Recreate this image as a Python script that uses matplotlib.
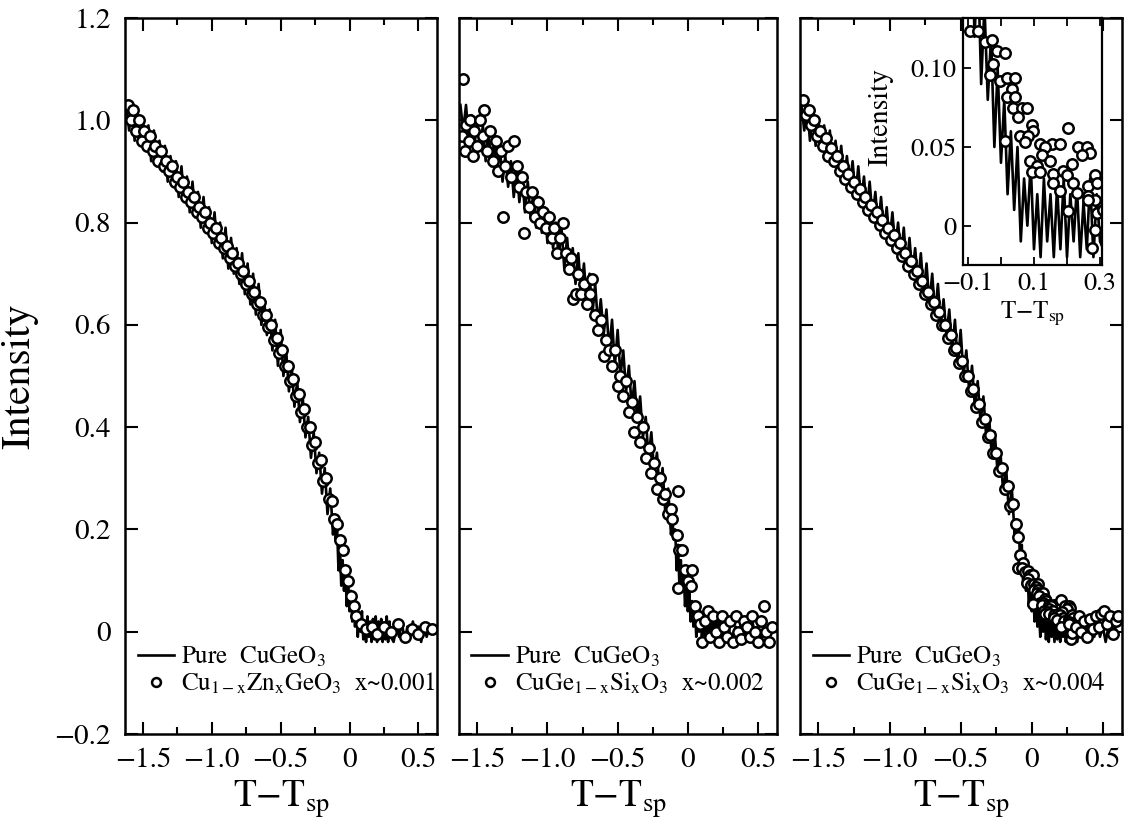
import numpy as np
import matplotlib.pyplot as plt
from matplotlib.ticker import FuncFormatter

plt.rcParams['font.family'] = 'STIXGeneral'
plt.rcParams['mathtext.fontset'] = 'stix'

# Pure CuGeO3 scan (same curve in all three panels)
pure_t = [-1.62, -1.60, -1.58, -1.56, -1.54, -1.52, -1.50, -1.48, -1.46, -1.44,
          -1.42, -1.40, -1.38, -1.36, -1.34, -1.32, -1.30, -1.28, -1.26, -1.24,
          -1.22, -1.20, -1.18, -1.16, -1.14, -1.12, -1.10, -1.08, -1.06, -1.04,
          -1.02, -1.00, -0.98, -0.96, -0.94, -0.92, -0.90, -0.88, -0.86, -0.84,
          -0.82, -0.80, -0.78, -0.76, -0.74, -0.72, -0.70, -0.68, -0.66, -0.64,
          -0.62, -0.60, -0.58, -0.56, -0.54, -0.52, -0.50, -0.48, -0.46, -0.44,
          -0.42, -0.40, -0.38, -0.36, -0.34, -0.32, -0.30, -0.28, -0.26, -0.24,
          -0.22, -0.20, -0.18, -0.16, -0.14,
          -0.12, -0.11, -0.10, -0.09, -0.08, -0.07, -0.06, -0.05, -0.04, -0.03,
          -0.02, -0.01, 0.00, 0.01, 0.02, 0.03, 0.04, 0.05, 0.06, 0.07,
          0.08, 0.09, 0.10, 0.11, 0.12, 0.13, 0.14, 0.15, 0.16, 0.17,
          0.18, 0.19, 0.20, 0.21, 0.22, 0.23, 0.24, 0.25, 0.26, 0.27,
          0.28, 0.29, 0.30,
          0.32, 0.34, 0.36, 0.38, 0.40, 0.42, 0.44, 0.46, 0.48, 0.50,
          0.52, 0.54, 0.56, 0.58, 0.60]
pure_i = [1.03, 0.98, 1.03, 0.96, 1.01, 0.95, 1.00, 0.94, 0.99, 0.92,
          0.98, 0.91, 0.96, 0.90, 0.95, 0.88, 0.93, 0.87, 0.92, 0.85,
          0.91, 0.84, 0.89, 0.82, 0.88, 0.81, 0.86, 0.79, 0.85, 0.78,
          0.83, 0.76, 0.82, 0.75, 0.80, 0.73, 0.79, 0.71, 0.77, 0.70,
          0.75, 0.68, 0.74, 0.66, 0.72, 0.64, 0.70, 0.62, 0.68, 0.60,
          0.65, 0.58, 0.63, 0.55, 0.61, 0.52, 0.59, 0.50, 0.55, 0.47,
          0.52, 0.44, 0.49, 0.41, 0.46, 0.38, 0.42, 0.34, 0.39, 0.31,
          0.35, 0.27, 0.32, 0.23, 0.28,
          0.19, 0.22, 0.18, 0.20, 0.12, 0.17, 0.09, 0.14, 0.08, 0.12,
          0.05, 0.10, 0.04, 0.08, 0.02, 0.06, 0.01, 0.05, -0.01, 0.03,
          0.00, 0.04, -0.015, 0.02, -0.02, 0.03, -0.01, 0.02, -0.02, 0.025,
          -0.015, 0.03, -0.02, 0.02, -0.01, 0.025, -0.02, 0.015, -0.015, 0.03,
          -0.02, 0.02, -0.01,
          -0.02, 0.01, -0.01, 0.02, -0.02, 0.01, -0.01, 0.02, -0.01, 0.01,
          -0.02, 0.01, -0.01, 0.01, 0.00]

# Cu1-xZnxGeO3, x~0.001
zn_t = [-1.61, -1.59, -1.57, -1.55, -1.53, -1.51, -1.49, -1.47, -1.45, -1.43,
        -1.41, -1.39, -1.37, -1.35, -1.33, -1.31, -1.29, -1.27, -1.25, -1.23,
        -1.21, -1.19, -1.17, -1.15, -1.13, -1.11, -1.09, -1.07, -1.05, -1.03,
        -1.01, -0.99, -0.97, -0.95, -0.93, -0.91, -0.89, -0.87, -0.85, -0.83,
        -0.81, -0.79, -0.77, -0.75, -0.73, -0.71, -0.69, -0.67, -0.65, -0.63,
        -0.61, -0.59, -0.57, -0.55, -0.53, -0.51, -0.49, -0.47, -0.45, -0.43,
        -0.41, -0.39, -0.37, -0.35, -0.33, -0.31, -0.29, -0.27, -0.25, -0.23,
        -0.21, -0.19, -0.17, -0.15, -0.13, -0.11, -0.09, -0.07, -0.05, -0.03,
        -0.01, 0.01, 0.03, 0.05, 0.08, 0.12, 0.16, 0.20, 0.25, 0.30,
        0.35, 0.40, 0.45, 0.50, 0.55, 0.60]
zn_i = [1.03, 1.00, 1.02, 0.98, 1.00, 0.96, 0.98, 0.95, 0.97, 0.94,
        0.95, 0.92, 0.94, 0.91, 0.92, 0.90, 0.91, 0.88, 0.89, 0.87,
        0.88, 0.85, 0.86, 0.84, 0.85, 0.82, 0.83, 0.81, 0.82, 0.79,
        0.80, 0.78, 0.79, 0.76, 0.77, 0.75, 0.755, 0.73, 0.74, 0.715,
        0.72, 0.70, 0.705, 0.68, 0.685, 0.66, 0.665, 0.64, 0.645, 0.62,
        0.62, 0.595, 0.60, 0.57, 0.575, 0.545, 0.55, 0.52, 0.52, 0.49,
        0.495, 0.46, 0.465, 0.43, 0.435, 0.40, 0.40, 0.365, 0.37, 0.33,
        0.335, 0.295, 0.30, 0.26, 0.255, 0.22, 0.21, 0.18, 0.16, 0.12,
        0.10, 0.07, 0.05, 0.03, 0.015, 0.005, 0.01, -0.005, 0.01, 0.0,
        0.015, -0.01, 0.005, -0.005, 0.01, 0.005]

# CuGe1-xSixO3, x~0.002
si2_t = [-1.61, -1.60, -1.59, -1.58, -1.56, -1.55, -1.53, -1.52, -1.50, -1.48,
         -1.46, -1.45, -1.43, -1.41, -1.39, -1.37, -1.35, -1.33, -1.32, -1.30,
         -1.28, -1.26, -1.24, -1.22, -1.20, -1.18, -1.17, -1.15, -1.13, -1.11,
         -1.09, -1.07, -1.05, -1.03, -1.01, -0.99, -0.97, -0.95, -0.93, -0.91,
         -0.89, -0.87, -0.85, -0.83, -0.82, -0.80, -0.78, -0.76, -0.74, -0.72,
         -0.70, -0.68, -0.66, -0.64, -0.62, -0.60, -0.58, -0.56, -0.54, -0.52,
         -0.50, -0.48, -0.46, -0.44, -0.42, -0.40, -0.38, -0.36, -0.34, -0.32,
         -0.30, -0.28, -0.26, -0.24, -0.22, -0.20, -0.18, -0.16, -0.14, -0.12,
         -0.11, -0.07, -0.08, -0.06, -0.04, -0.02, 0.00, 0.02, -0.07, 0.03,
         0.05, 0.07, 0.09, 0.10, 0.12, 0.14, 0.16, 0.18, 0.20, 0.22,
         0.24, 0.26, 0.28, 0.30, 0.32, 0.34, 0.36, 0.38, 0.40, 0.42,
         0.44, 0.46, 0.48, 0.50, 0.52, 0.54, 0.56, 0.58, 0.60]
si2_i = [0.97, 1.08, 0.94, 0.99, 0.96, 1.00, 0.93, 0.98, 0.95, 1.00,
         0.97, 1.02, 0.94, 0.98, 0.92, 0.96, 0.90, 0.94, 0.81, 0.91,
         0.95, 0.89, 0.96, 0.91, 0.87, 0.89, 0.78, 0.86, 0.83, 0.86,
         0.81, 0.84, 0.80, 0.82, 0.79, 0.81, 0.77, 0.79, 0.74, 0.77,
         0.80, 0.74, 0.71, 0.73, 0.65, 0.66, 0.70, 0.66, 0.68, 0.64,
         0.66, 0.69, 0.62, 0.59, 0.61, 0.54, 0.57, 0.55, 0.52, 0.55,
         0.48, 0.50, 0.46, 0.49, 0.43, 0.45, 0.39, 0.42, 0.37, 0.40,
         0.34, 0.36, 0.31, 0.33, 0.28, 0.30, 0.26, 0.27, 0.23, 0.24,
         0.22, 0.275, 0.19, 0.16, 0.16, 0.12, 0.10, 0.09, 0.085, 0.12,
         0.05, 0.03, 0.015, -0.02, 0.02, 0.04, -0.01, 0.03, 0.0, -0.02,
         0.03, 0.01, -0.01, 0.02, -0.02, 0.03, 0.0, -0.015, 0.02, 0.01,
         -0.01, 0.03, 0.0, -0.02, 0.02, 0.05, 0.0, -0.02, 0.01]

# CuGe1-xSixO3, x~0.004
si4_t = [-1.61, -1.59, -1.57, -1.55, -1.53, -1.51, -1.49, -1.47, -1.45, -1.43,
         -1.41, -1.39, -1.37, -1.35, -1.33, -1.31, -1.29, -1.27, -1.25, -1.23,
         -1.21, -1.19, -1.17, -1.15, -1.13, -1.11, -1.09, -1.07, -1.05, -1.03,
         -1.01, -0.99, -0.97, -0.95, -0.93, -0.91, -0.89, -0.87, -0.85, -0.83,
         -0.81, -0.79, -0.77, -0.75, -0.73, -0.71, -0.69, -0.67, -0.65, -0.63,
         -0.61, -0.59, -0.57, -0.55, -0.53, -0.51, -0.49, -0.47, -0.45, -0.43,
         -0.41, -0.39, -0.37, -0.35, -0.33, -0.31, -0.29, -0.27, -0.25, -0.23,
         -0.21, -0.19, -0.17, -0.15, -0.13, -0.11,
         -0.100, -0.085, -0.060, -0.094, -0.070, -0.048, -0.027, -0.012, 0.011, -0.024,
         -0.033, -0.003, 0.018, 0.042, 0.033, 0.018, 0.042, 0.036, 0.064, 0.079,
         0.052, 0.094, 0.097, 0.058, 0.082, 0.012, 0.073, 0.118, 0.155, 0.179,
         0.203, 0.133, 0.233, 0.260, 0.270, 0.245, 0.088, 0.124, 0.148, 0.109,
         0.094, 0.118, 0.158, 0.188, 0.215, 0.200, 0.158, 0.218, 0.179, 0.230,
         0.264, 0.285, 0.290, 0.264, 0.285, 0.203, 0.290, 0.276, 0.285, 0.264,
         0.31, 0.33, 0.35, 0.37, 0.39, 0.41, 0.43, 0.45, 0.47, 0.49,
         0.51, 0.53, 0.55, 0.57, 0.59, 0.61]
si4_i = [1.04, 1.01, 1.02, 0.99, 1.00, 0.97, 0.98, 0.95, 0.965, 0.93,
         0.945, 0.92, 0.93, 0.90, 0.91, 0.885, 0.895, 0.87, 0.88, 0.855,
         0.865, 0.84, 0.85, 0.825, 0.835, 0.81, 0.82, 0.795, 0.805, 0.78,
         0.79, 0.765, 0.775, 0.75, 0.76, 0.735, 0.74, 0.715, 0.725, 0.70,
         0.705, 0.68, 0.685, 0.66, 0.665, 0.64, 0.645, 0.62, 0.625, 0.60,
         0.60, 0.575, 0.58, 0.55, 0.555, 0.525, 0.53, 0.50, 0.50, 0.47,
         0.475, 0.44, 0.445, 0.41, 0.415, 0.38, 0.385, 0.35, 0.35, 0.315,
         0.32, 0.28, 0.285, 0.245, 0.25, 0.21,
         0.185, 0.150, 0.135, 0.124, 0.124, 0.117, 0.118, 0.111, 0.110, 0.103,
         0.096, 0.092, 0.094, 0.094, 0.087, 0.082, 0.082, 0.075, 0.075, 0.075,
         0.069, 0.064, 0.060, 0.057, 0.057, 0.054, 0.053, 0.052, 0.052, 0.052,
         0.062, 0.050, 0.050, 0.050, 0.046, 0.045, 0.041, 0.045, 0.041, 0.038,
         0.034, 0.034, 0.033, 0.035, 0.039, 0.032, 0.027, 0.027, 0.022, 0.021,
         0.025, 0.032, 0.027, 0.019, 0.016, 0.0095, 0.008, -0.014, -0.003, 0.016,
         0.01, 0.03, 0.0, 0.02, -0.01, 0.025, 0.005, 0.03, 0.01, 0.035,
         0.04, 0.015, 0.03, -0.005, 0.02, 0.03]

sample_labels = ['Cu$_{\\mathrm{1-x}}$Zn$_{\\mathrm{x}}$GeO$_3$  x~0.001',
                 'CuGe$_{\\mathrm{1-x}}$Si$_{\\mathrm{x}}$O$_3$  x~0.002',
                 'CuGe$_{\\mathrm{1-x}}$Si$_{\\mathrm{x}}$O$_3$  x~0.004']
samples = [(zn_t, zn_i), (si2_t, si2_i), (si4_t, si4_i)]


def main_fmt(v, pos):
    if abs(v) < 1e-9:
        return '0'
    return ('%.1f' % v).replace('-', '\u2212')


def inset_fmt(v, pos):
    if abs(v) < 1e-9:
        return '0'
    return ('%.2f' % v).replace('-', '\u2212')


W, H = 1137, 840
fig = plt.figure(figsize=(W / 100, H / 100), dpi=100)

# panel edges in pixels (left, right), shared top/bottom
edges = [(125, 437), (459, 777), (800, 1122)]
top, bottom = 18, 734

for k, (l, r) in enumerate(edges):
    ax = fig.add_axes([l / W, (H - bottom) / H, (r - l) / W, (bottom - top) / H])
    ax.plot(pure_t, pure_i, 'k-', lw=1.9, label='Pure  CuGeO$_3$')
    t, i = samples[k]
    ax.plot(t, i, 'o', mfc='white', mec='black', ms=7.5, mew=1.8,
            label=sample_labels[k])
    ax.set_xlim(-1.63, 0.635)
    ax.set_ylim(-0.2, 1.2)
    ax.set_xticks([-1.5, -1.0, -0.5, 0, 0.5])
    ax.set_xticks([-1.25, -0.75, -0.25, 0.25], minor=True)
    ax.set_yticks(np.arange(-0.2, 1.21, 0.2))
    ax.xaxis.set_major_formatter(FuncFormatter(main_fmt))
    ax.yaxis.set_major_formatter(FuncFormatter(main_fmt))
    ax.tick_params(which='both', direction='in', top=True, right=True, width=1.5)
    ax.tick_params(which='major', length=9, labelsize=21, pad=10)
    ax.tick_params(which='minor', length=5)
    for s in ax.spines.values():
        s.set_linewidth(1.8)
    if k > 0:
        ax.tick_params(labelleft=False)
    else:
        ax.set_ylabel('Intensity', fontsize=30, labelpad=12)
    ax.set_xlabel('T$-$T$_{\\rm sp}$', fontsize=27, labelpad=4)
    ax.legend(loc='lower left', bbox_to_anchor=(0.0, 0.035), frameon=False,
              fontsize=18, handlelength=1.45, handletextpad=0.3,
              borderaxespad=0.1, labelspacing=0.05, markerscale=0.85)

# inset for the x~0.004 sample
ins = fig.add_axes([963 / W, (H - 265) / H, 139 / W, 247 / H])
ins.plot(pure_t, pure_i, 'k-', lw=1.9)
ins.plot(si4_t, si4_i, 'o', mfc='white', mec='black', ms=7.5, mew=1.8)
ins.set_xlim(-0.115, 0.306)
ins.set_ylim(-0.025, 0.132)
ins.set_xticks([-0.1, 0.1, 0.3])
ins.set_xticks([0.0, 0.2], minor=True)
ins.set_yticks([0, 0.05, 0.10])
ins.xaxis.set_major_formatter(FuncFormatter(main_fmt))
ins.yaxis.set_major_formatter(FuncFormatter(inset_fmt))
ins.tick_params(which='both', direction='in', top=True, right=False, width=1.3)
ins.tick_params(which='major', length=6, labelsize=19, pad=5)
ins.tick_params(which='minor', length=6)
for s in ins.spines.values():
    s.set_linewidth(1.6)
ins.set_xlabel('T$-$T$_{\\rm sp}$', fontsize=18, labelpad=3)
ins.set_ylabel('Intensity', fontsize=20)
ins.yaxis.set_label_coords(-0.5, 0.6)

fig.savefig('out.png', dpi=100)
